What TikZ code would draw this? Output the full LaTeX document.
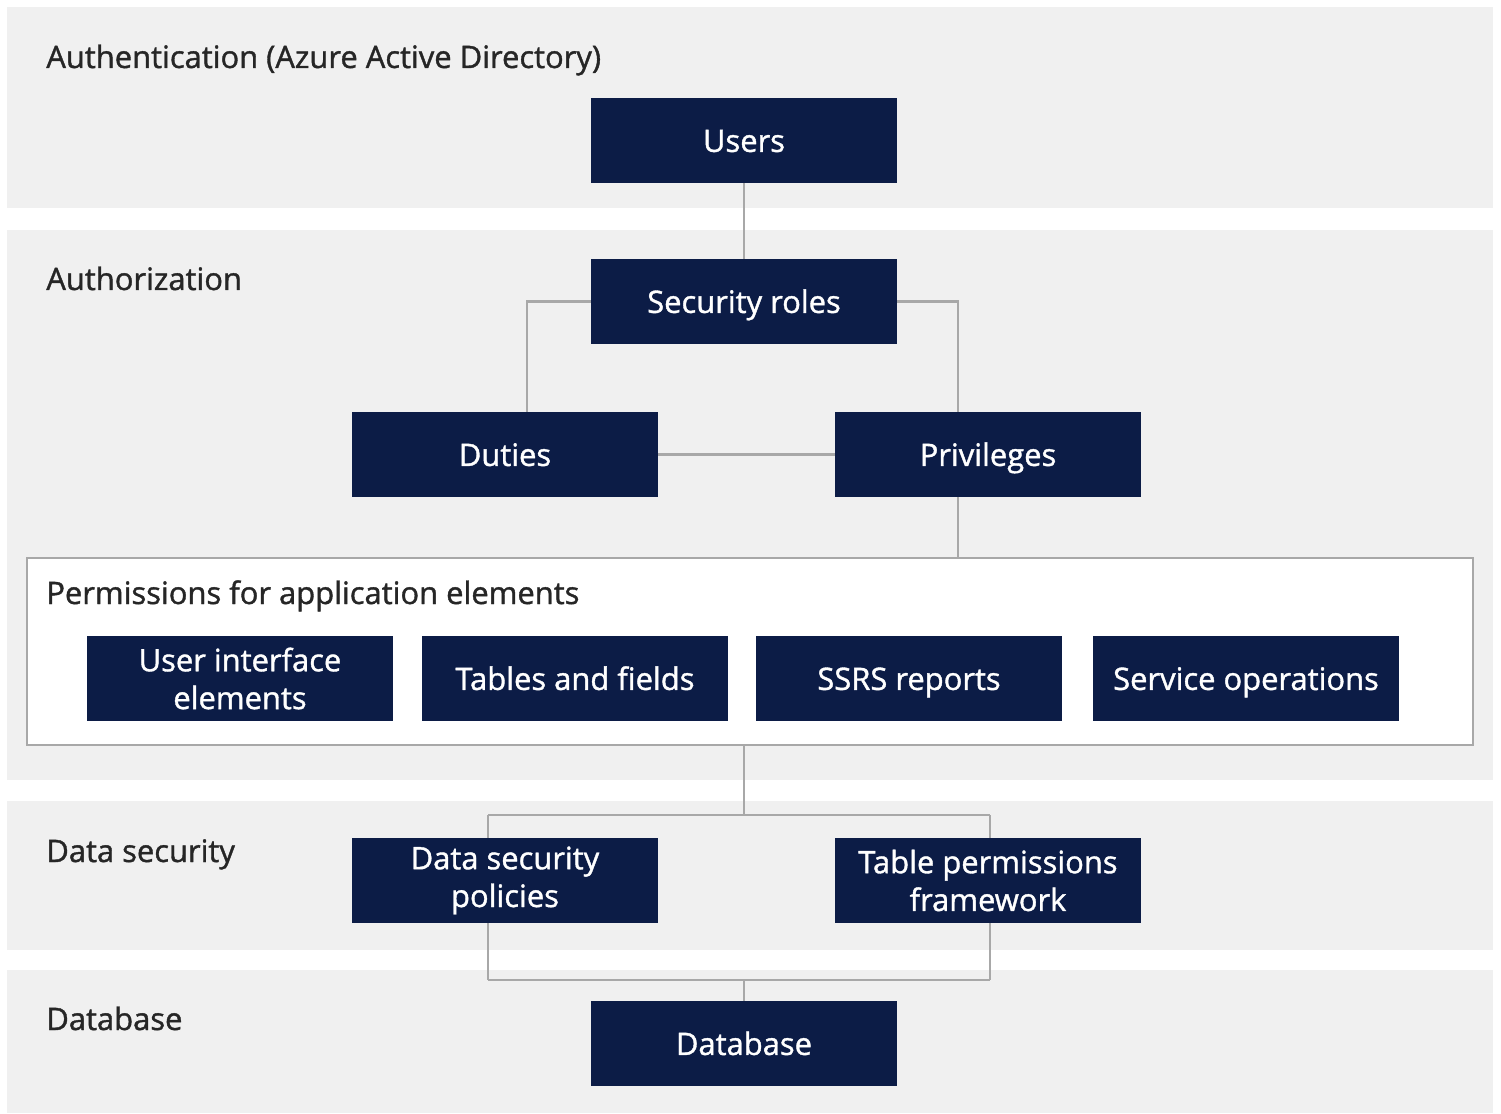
\documentclass[tikz,border=0pt]{standalone}
\usepackage{fontspec}
\setmainfont{Open Sans}[BoldFont={Open Sans}, BoldFeatures={FakeBold=1.2}]
\usepackage{tikz}
\usetikzlibrary{positioning}

\definecolor{navy}{HTML}{0C1C46}
\definecolor{bandgray}{HTML}{F0F0F0}
\definecolor{linegray}{HTML}{A8A8A8}
\definecolor{labeltext}{HTML}{262626}

\begin{document}
\begin{tikzpicture}[
    x=0.02cm, y=-0.02cm,
    band/.style={fill=bandgray, draw=none},
    tier/.style={anchor=base west, inner sep=0pt, text=labeltext,
                 font=\fontsize{17.6}{21}\selectfont\bfseries},
    item/.style={fill=navy, text=white, minimum width=6.12cm,
                 minimum height=1.7cm, inner sep=2pt, align=center,
                 font=\fontsize{17.6}{21.5}\selectfont\bfseries},
    oneline/.style={item, text height=16pt, text depth=3pt},
    link/.style={draw=linegray, line width=1.2pt},
    bus/.style={draw=linegray, line width=1.6pt}
  ]
    \useasboundingbox (0,0) rectangle (1501,1114);
    % Tier bands
    \fill[band] (7,7)   rectangle (1493,208);
    \fill[band] (7,230) rectangle (1493,780);
    \fill[band] (7,801) rectangle (1493,950);
    \fill[band] (7,970) rectangle (1493,1113);
    \node[tier] (lauth) at (46,68)   {Authentication (Azure Active Directory)};
    \node[tier] (lrole) at (46,290)  {Authorization};
    \node[tier] (ldata) at (46,862)  {Data security};
    \node[tier] (ldb)   at (46,1030) {Database};
    % Application elements frame
    \node[draw=linegray, line width=1.4pt, fill=white, minimum width=28.92cm,
          minimum height=3.74cm, inner sep=0pt] (perms) at (750,651.5) {};
    \node[tier] (lperm) at (46,604) {Permissions for application elements};
    % Boxes
    \node[oneline] (users)  at (744,140.5)  {Users};
    \node[oneline] (roles)  at (744,301.5)  {Security roles};
    \node[oneline] (duties) at (505,454.5)  {Duties};
    \node[oneline] (privs)  at (988,454.5)  {Privileges};
    \node[item]    (uiel)   at (240,678.5)  {User interface\\elements};
    \node[oneline] (tabs)   at (575,678.5)  {Tables and fields};
    \node[oneline] (ssrs)   at (909,678.5)  {SSRS reports};
    \node[oneline] (servop) at (1246,678.5) {Service operations};
    \node[item]    (dsp)    at (505,880.5)  {Data security\\policies};
    \node[item]    (tpf)    at (988,880.5)  {Table permissions\\framework};
    \node[oneline] (db)     at (744,1043.5) {Database};
    % Joints
    \coordinate (dtop)  at (527,412);
    \coordinate (ptop)  at (958,412);
    \coordinate (pbot)  at (958,497);
    \coordinate (split) at (744,815);
    \coordinate (merge) at (744,980);
    \coordinate (dspt)  at (488,838);
    \coordinate (tpft)  at (990,838);
    \coordinate (dspb)  at (488,923);
    \coordinate (tpfb)  at (990,923);
    % Connectors
    \draw[link] (users) -- (roles);
    \draw[link] (roles.west) -| (dtop);
    \draw[link] (roles.east) -| (ptop);
    \draw[link] (duties) -- (privs);
    \draw[link] (pbot) -- (pbot |- perms.north);
    \draw[link] (split |- perms.south) -- (split);
    \draw[bus] (dspt |- split) -- (tpft |- split);
    \draw[link] (dspt |- split) -- (dspt);
    \draw[link] (tpft |- split) -- (tpft);
    \draw[link] (dspb) -- (dspb |- merge);
    \draw[link] (tpfb) -- (tpfb |- merge);
    \draw[bus] (dspb |- merge) -- (tpfb |- merge);
    \draw[link] (merge) -- (db);
  \end{tikzpicture}
\end{document}
